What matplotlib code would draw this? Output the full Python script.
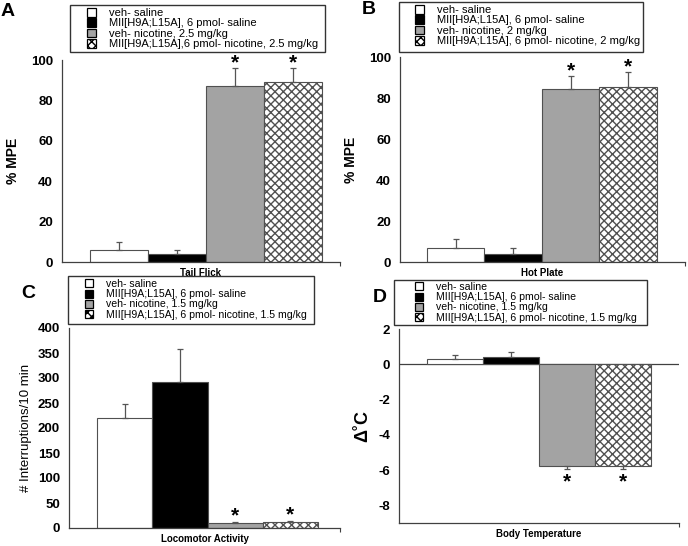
import matplotlib
matplotlib.use("Agg")
import matplotlib.pyplot as plt
from matplotlib.patches import Rectangle, Patch

plt.rcParams['font.family'] = ['Liberation Sans', 'DejaVu Sans']
plt.rcParams['hatch.linewidth'] = 1.0
plt.rcParams['hatch.color'] = '#111111'

W, H = 688, 546

# ---- data -------------------------------------------------------------
tf_mean = [6, 4, 87, 89]
tf_err = [4, 2, 9, 7]
hp_mean = [7, 4, 84.5, 85.5]
hp_err = [4, 3, 6, 7]
loco_mean = [220, 293, 10, 12]
loco_err = [28, 66, 3, 3]
temp_mean = [0.3, 0.4, -5.75, -5.75]
temp_err = [0.2, 0.3, 0.2, 0.2]

stars_tf = [False, False, True, True]
stars_hp = [False, False, True, True]
stars_loco = [False, False, True, True]
stars_temp = [False, False, True, True]

labels_A = ['veh- saline', 'MII[H9A;L15A], 6 pmol- saline',
            'veh- nicotine, 2.5 mg/kg',
            'MII[H9A;L15A],6 pmol- nicotine, 2.5 mg/kg']
labels_B = ['veh- saline', 'MII[H9A;L15A], 6 pmol- saline',
            'veh- nicotine, 2 mg/kg',
            'MII[H9A;L15A], 6 pmol- nicotine, 2 mg/kg']
labels_CD = ['veh- saline', 'MII[H9A;L15A], 6 pmol- saline',
             'veh- nicotine, 1.5 mg/kg',
             'MII[H9A;L15A], 6 pmol- nicotine, 1.5 mg/kg']

faces = ['white', 'black', '#a3a3a3', 'white']
hatches = [None, None, None, 'xxxx']
edge = '#505050'


def ax_at(fig, l, t, r, b):
    return fig.add_axes([l / W, 1 - b / H, (r - l) / W, (b - t) / H])


def draw_panel(ax, means, errs, stars, xlim, ylim, yticks, xlabel, negative=False):
    x = range(len(means))
    for i in x:
        ax.bar(i, means[i], width=1.0, color=faces[i], edgecolor=edge,
               linewidth=0.8, hatch=hatches[i], zorder=2)
        if means[i] >= 0:
            yerr = [[0], [errs[i]]]
        else:
            yerr = [[errs[i]], [0]]
        ax.errorbar(i, means[i], yerr=yerr, fmt='none', ecolor='#555555',
                    elinewidth=0.9, capsize=2.5, capthick=0.9, zorder=3)
        if stars[i]:
            if means[i] >= 0:
                ax.annotate('*', (i, means[i] + errs[i]), xytext=(0, -3),
                            textcoords='offset points', ha='center', va='bottom',
                            fontsize=15, fontweight='bold')
            else:
                ax.annotate('*', (i, means[i] - errs[i]), xytext=(0, -2),
                            textcoords='offset points', ha='center', va='top',
                            fontsize=15, fontweight='bold')
    ax.set_xlim(*xlim)
    ax.set_ylim(*ylim)
    ax.set_yticks(yticks)
    ax.set_yticklabels([str(v) for v in yticks], fontweight='bold', fontsize=9.5)
    ax.set_xticks([xlim[1]])
    ax.set_xticklabels([])
    ax.tick_params(axis='x', length=3, width=0.8, color='#404040', direction='out', pad=0)
    ax.tick_params(axis='y', length=0, pad=6.5)
    for s in ['top', 'right']:
        ax.spines[s].set_visible(False)
    for s in ['left', 'bottom']:
        ax.spines[s].set_color('#404040')
        ax.spines[s].set_linewidth(0.9)
    ax.set_xlabel(xlabel, fontsize=7, fontweight='bold', labelpad=1)
    if negative:
        ax.axhline(0, color='#404040', linewidth=0.9, zorder=1)


def draw_legend(fig, labels, box, hx, top, size):
    l, t, r, b = box
    fig.patches.append(Rectangle((l / W, 1 - b / H), (r - l) / W, (b - t) / H,
                                 transform=fig.transFigure, fill=False,
                                 edgecolor='#333333', linewidth=1.0))
    handles = [Patch(facecolor=faces[i], edgecolor='black', linewidth=0.9,
                     hatch='xxxx' if hatches[i] else None) for i in range(4)]
    fig.legend(handles, labels, loc='upper left', bbox_to_anchor=(hx / W, 1 - top / H),
               frameon=False, fontsize=size, handlelength=0.8, handleheight=0.8,
               handletextpad=1.2, labelspacing=0.02, borderpad=0, borderaxespad=0)


fig = plt.figure(figsize=(W / 100, H / 100), dpi=100)

axA = ax_at(fig, 62, 60, 340, 262)
draw_panel(axA, tf_mean, tf_err, stars_tf, (-0.98, 3.81), (0, 100),
           [0, 20, 40, 60, 80, 100], 'Tail Flick')
axA.set_ylabel('% MPE', fontsize=10, fontweight='bold', labelpad=8)

axB = ax_at(fig, 400, 57, 685, 262)
draw_panel(axB, hp_mean, hp_err, stars_hp, (-0.97, 3.99), (0, 100),
           [0, 20, 40, 60, 80, 100], 'Hot Plate')
axB.set_ylabel('% MPE', fontsize=10, fontweight='bold', labelpad=8)

axC = ax_at(fig, 69, 328, 340, 528)
draw_panel(axC, loco_mean, loco_err, stars_loco, (-1.01, 3.9), (0, 400),
           [0, 50, 100, 150, 200, 250, 300, 350, 400], 'Locomotor Activity')
axC.set_ylabel('# Interruptions/10 min', fontsize=9.5, labelpad=4)

axD = ax_at(fig, 399, 329, 679, 523)
draw_panel(axD, temp_mean, temp_err, stars_temp, (-1.0, 4.0), (-9, 2),
           [-8, -6, -4, -2, 0, 2], 'Body Temperature', negative=True)
axD.set_ylabel('\u0394\u02daC', fontsize=13, fontweight='bold', labelpad=5)

draw_legend(fig, labels_A, (70, 5, 325, 52), 87, 8, 8)
draw_legend(fig, labels_B, (399, 2, 643, 52), 415, 5, 8)
draw_legend(fig, labels_CD, (68, 276, 314, 324), 85, 279, 7.6)
draw_legend(fig, labels_CD, (394, 280, 647, 325), 415, 282, 7.6)

fig.text(8 / W, 1 - 12 / H, 'A', fontsize=14, fontweight='bold', ha='center', va='center')
fig.text(369 / W, 1 - 9 / H, 'B', fontsize=14, fontweight='bold', ha='center', va='center')
fig.text(28 / W, 1 - 293 / H, 'C', fontsize=14, fontweight='bold', ha='center', va='center')
fig.text(380 / W, 1 - 297 / H, 'D', fontsize=14, fontweight='bold', ha='center', va='center')

fig.savefig('out.png', dpi=100)
